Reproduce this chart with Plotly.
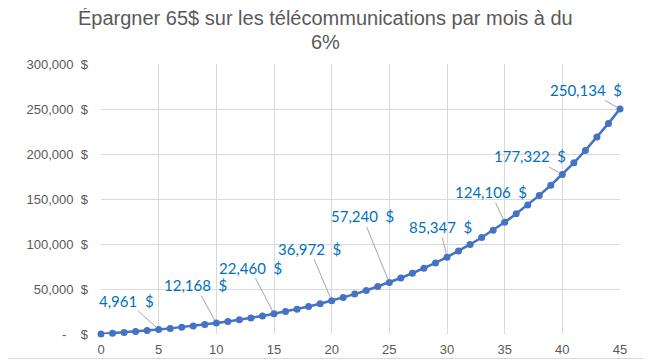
import plotly.graph_objects as go

years = list(range(46))
values = [0, 850, 1750, 2800, 3850, 4961,
          6250, 7600, 9000, 10550, 12168,
          13900, 15800, 17800, 20050, 22460,
          24950, 27600, 30500, 33650, 36972,
          40550, 44350, 48350, 52700, 57240,
          62200, 67500, 73100, 79000, 85347,
          92200, 99500, 107200, 115400, 124106,
          133500, 143400, 154000, 165300, 177322,
          190200, 204000, 218800, 234000, 250134]

NB = "\u00a0"
label_years = [5, 10, 15, 20, 25, 30, 35, 40, 45]
label_text = ["4,961", "12,168", "22,460", "36,972", "57,240",
              "85,347", "124,106", "177,322", "250,134"]
# pixel offsets of label centre from point (layout only)
label_offsets = [(-32, -29), (-21, -38), (-24, -46), (-22, -52), (-27, -66),
                 (-7, -30), (-14, -30), (-32, -18), (-34, -19)]

ytick_vals = [0, 50000, 100000, 150000, 200000, 250000, 300000]
ytick_nums = ["-", "50,000", "100,000", "150,000", "200,000", "250,000", "300,000"]
xtick_vals = [0, 5, 10, 15, 20, 25, 30, 35, 40, 45]
title_lines = ["Épargner 65$ sur les télécommunications par mois à du", "6%"]

ytick_text = [(n + NB * 4 + "$") if n == "-" else (n + NB * 2 + "$") for n in ytick_nums]

fig = go.Figure()
fig.add_trace(go.Scatter(
    x=years, y=values, mode="lines+markers",
    line=dict(color="#4472C4", width=2.5),
    marker=dict(color="#4472C4", size=7),
    cliponaxis=False, hoverinfo="skip", showlegend=False))

for yr, txt, (ax, ay) in zip(label_years, label_text, label_offsets):
    fig.add_annotation(
        x=yr, y=values[yr], text=txt + NB * 2 + "$", showarrow=True,
        ax=ax, ay=ay, arrowhead=0, arrowwidth=1, arrowcolor="#A6A6A6",
        standoff=3,
        font=dict(family="Lato, Calibri, sans-serif", size=15, color="#0070C0"))

# page body has an 8px margin; figure offset by 8px from the window corner
W, H = 643, 356
L, R, T, B = 93, 31, 56, 30
pw, ph = W - L - R, H - T - B

# title lines as centred text
for i, line in enumerate(title_lines):
    fig.add_annotation(
        xref="paper", yref="paper", x=(317 - L) / pw,
        y=1 + (T - (10 + 24 * i)) / ph, text=line, showarrow=False,
        xanchor="center", yanchor="middle",
        font=dict(family="Liberation Sans, Arial", size=20, color="#595959"))

# chart border (right and bottom edges)
bx = (638.5 - L) / pw
by = -(350.5 - T - ph) / ph
fig.add_shape(type="line", xref="paper", yref="paper",
              x0=bx, x1=bx, y0=by, y1=1 + T / ph,
              line=dict(color="#D9D9D9", width=1))
fig.add_shape(type="line", xref="paper", yref="paper",
              x0=-L / pw, x1=bx, y0=by, y1=by,
              line=dict(color="#D9D9D9", width=1))

fig.update_layout(
    width=W, height=H,
    margin=dict(l=L, r=R, t=T, b=B, autoexpand=False),
    paper_bgcolor="white", plot_bgcolor="white",
    xaxis=dict(range=[0, 45], tickvals=xtick_vals, showgrid=True, automargin=False,
               gridcolor="#D9D9D9", gridwidth=1, zeroline=False, showline=False,
               ticks="", ticklabelstandoff=6,
               tickfont=dict(family="Liberation Sans, Arial", size=13, color="#595959")),
    yaxis=dict(range=[0, 300000], tickvals=ytick_vals, ticktext=ytick_text,
               showgrid=True, automargin=False, gridcolor="#D9D9D9", gridwidth=1,
               zeroline=False, showline=False, ticks="", ticklabelstandoff=12,
               tickfont=dict(family="Liberation Sans, Arial", size=13, color="#595959")),
)

fig.write_html("out.html")
